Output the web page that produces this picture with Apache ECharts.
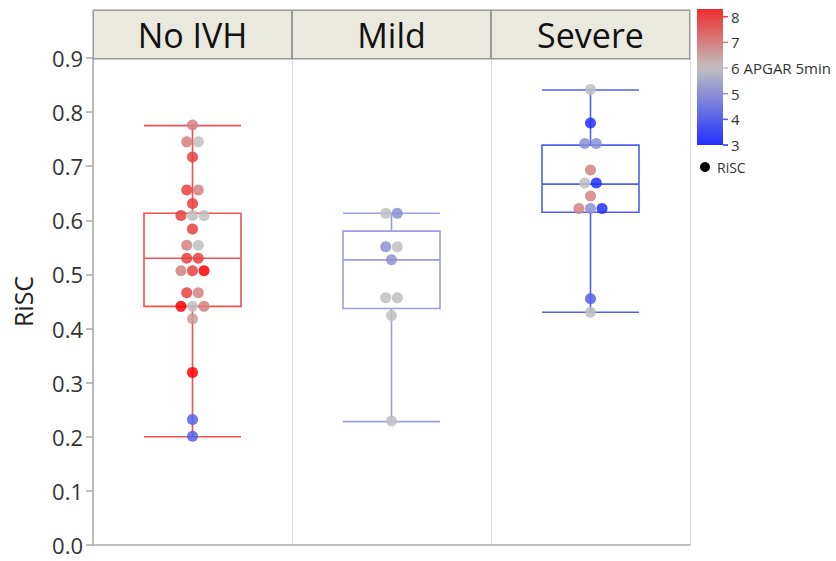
<!DOCTYPE html>
<html><head><meta charset="utf-8">
<script src="https://cdn.jsdelivr.net/npm/echarts@6/dist/echarts.min.js"></script>
<style>html,body{margin:0;padding:0;background:#fff}#c{width:836px;height:561px}</style>
</head><body><div id="c"></div>
<script>
// ---- data ----
const groups = ['No IVH', 'Mild', 'Severe'];
const yTickMin = 0, yTickMax = 0.9, yTickStep = 0.1;
// [min, Q1, median, Q3, max]
const boxStats = [
  [0.200, 0.441, 0.530, 0.613, 0.775],
  [0.228, 0.437, 0.527, 0.580, 0.613],
  [0.430, 0.615, 0.667, 0.739, 0.841]
];
const boxColors = ['#ef3d42', '#8e94e0', '#3e4cf0'];

const noIvhRisc  = [0.776, 0.745, 0.745, 0.717, 0.656, 0.656, 0.631, 0.609, 0.609, 0.609, 0.584, 0.554, 0.554, 0.530, 0.530, 0.507, 0.507, 0.507, 0.466, 0.466, 0.441, 0.441, 0.441, 0.418, 0.319, 0.232, 0.201];
const noIvhApgar = [7, 7, 6, 8, 8, 7, 8, 8, 6, 6, 8, 7, 6, 8, 8, 7, 8, 9, 8, 7, 9, 6, 7, 6.6, 9, 4, 4];
const noIvhSlot  = [0, -0.5, 0.5, 0, -0.5, 0.5, 0, -1, 0, 1, 0, -0.5, 0.5, -0.5, 0.5, -1, 0, 1, -0.5, 0.5, -1, 0, 1, 0, 0, 0, 0];

const mildRisc  = [0.613, 0.613, 0.551, 0.551, 0.527, 0.457, 0.457, 0.424, 0.229];
const mildApgar = [6, 5, 5, 6, 5, 6, 6, 6, 6];
const mildSlot  = [-0.5, 0.5, -0.5, 0.5, 0, -0.5, 0.5, 0, 0];

const severeRisc  = [0.842, 0.780, 0.742, 0.742, 0.693, 0.669, 0.669, 0.645, 0.622, 0.622, 0.622, 0.455, 0.430];
const severeApgar = [6, 3, 5, 5, 7, 6, 3, 7, 7, 5, 3, 4, 6];
const severeSlot  = [0, 0, -0.5, 0.5, 0, -0.5, 0.5, 0, -1, 0, 1, 0, 0];

const legendTicks = [3, 4, 5, 6, 7, 8];
const apgarMin = 3, apgarMid = 6, apgarMax = 9, legendTopValue = 8.3;
const colorLow = [32, 48, 255], colorMid = [192, 192, 192], colorHigh = [255, 0, 0];

// ---- helpers ----
function apgarColor(v) {
  let a, b, t;
  if (v <= apgarMid) { a = colorLow; b = colorMid; t = (v - apgarMin) / (apgarMid - apgarMin); }
  else { a = colorMid; b = colorHigh; t = (v - apgarMid) / (apgarMax - apgarMid); }
  t = Math.max(0, Math.min(1, t));
  const c = a.map((x, i) => Math.round(x + (b[i] - x) * t));
  return 'rgb(' + c.join(',') + ')';
}
const slotWidth = 0.058; // jitter step, in category units
function pts(g, risc, slot, apgar) {
  return risc.map((r, i) => [g + 0.5 + slot[i] * slotWidth, r, apgar[i]]);
}
const scatterData = [].concat(
  pts(0, noIvhRisc, noIvhSlot, noIvhApgar),
  pts(1, mildRisc, mildSlot, mildApgar),
  pts(2, severeRisc, severeSlot, severeApgar)
);

const chart = echarts.init(document.getElementById('c'), null, { renderer: 'svg' });
const font = '"Open Sans", "Noto Sans", sans-serif';

// legend graphics
const legTop = 9, legBottom = 145, legX = 697, legW = 26;
const legY = v => legBottom - (v - apgarMin) / (legendTopValue - apgarMin) * (legBottom - legTop);
const gradStops = [];
for (let k = 0; k <= 20; k++) {
  const v = legendTopValue - (legendTopValue - apgarMin) * k / 20;
  gradStops.push({ offset: k / 20, color: apgarColor(v) });
}
const graphics = [{
  type: 'rect', shape: { x: legX, y: legTop, width: legW, height: legBottom - legTop },
  style: { fill: new echarts.graphic.LinearGradient(0, 0, 0, 1, gradStops) }, silent: true
}];
legendTicks.forEach(v => {
  graphics.push({ type: 'line', shape: { x1: legX + legW, y1: legY(v), x2: legX + legW + 5, y2: legY(v) },
    style: { stroke: apgarColor(v), lineWidth: 1.5 }, silent: true });
  graphics.push({ type: 'text', x: legX + legW + 8, y: legY(v),
    style: { text: v === apgarMid ? v + ' APGAR 5min' : String(v), fill: '#333', font: '15px ' + font, textVerticalAlign: 'middle' }, silent: true });
});
graphics.push({ type: 'circle', shape: { cx: 705, cy: 167, r: 5 }, style: { fill: '#000' }, silent: true });
graphics.push({ type: 'text', x: 717, y: 167, style: { text: 'RiSC', fill: '#333', font: '14px ' + font, textVerticalAlign: 'middle' }, silent: true });

chart.setOption({
  animation: false,
  backgroundColor: '#fff',
  grid: { left: 93, right: 146, top: 58, bottom: 16 },
  xAxis: [{
    type: 'category', data: groups, position: 'top', boundaryGap: true,
    axisLine: { show: false }, axisTick: { show: false },
    splitLine: { show: true, lineStyle: { color: '#dcdcdc', width: 1 } },
    axisLabel: {
      interval: 0, margin: 0, fontSize: 34, fontFamily: font, color: '#111',
      backgroundColor: '#e9e9e0', borderColor: '#9a9a9a', borderWidth: 1.5,
      width: 197, height: 47, lineHeight: 47, align: 'center'
    }
  }, {
    type: 'value', min: 0, max: groups.length, position: 'bottom',
    axisLine: { show: true, lineStyle: { color: '#aaaaaa', width: 1.5 } },
    axisTick: { show: false }, axisLabel: { show: false }, splitLine: { show: false }
  }],
  yAxis: {
    type: 'value', min: yTickMin, max: yTickMax, interval: yTickStep,
    name: 'RiSC', nameLocation: 'middle', nameGap: 58,
    nameTextStyle: { fontSize: 25, fontFamily: font, color: '#222' },
    axisLine: { show: true, lineStyle: { color: '#aaaaaa', width: 1.5 } },
    axisTick: { show: true, length: 7, lineStyle: { color: '#aaaaaa', width: 1.5 } },
    axisLabel: { fontSize: 22, lineHeight: 16, fontFamily: font, color: '#333', margin: 10, formatter: v => v.toFixed(1) },
    splitLine: { show: false }
  },
  visualMap: {
    show: false, type: 'continuous', dimension: 2, seriesIndex: 1,
    min: apgarMin, max: apgarMax,
    inRange: { color: [apgarColor(3), apgarColor(4), apgarColor(5), apgarColor(6), apgarColor(7), apgarColor(8), apgarColor(9)] }
  },
  series: [{
    type: 'boxplot', xAxisIndex: 0, boxWidth: [97, 97], z: 2,
    data: boxStats.map((s, i) => ({ value: s, itemStyle: { color: 'rgba(255,255,255,0)', borderColor: boxColors[i], borderWidth: 1.6, opacity: 0.9 } }))
  }, {
    type: 'scatter', xAxisIndex: 1, symbolSize: 11, z: 3,
    itemStyle: { opacity: 0.85 },
    data: scatterData
  }],
  graphic: graphics
});
</script></body></html>
